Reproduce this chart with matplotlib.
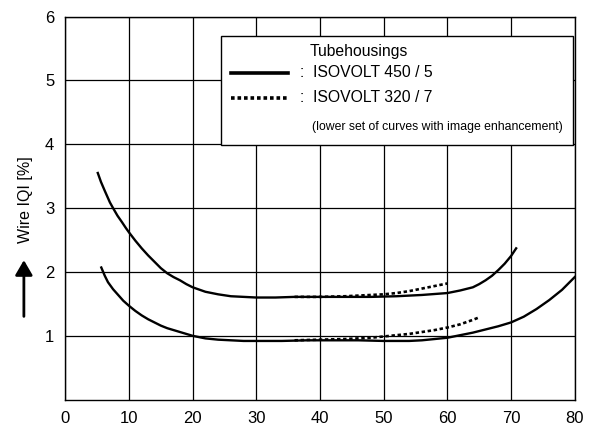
import matplotlib
matplotlib.use("Agg")
import matplotlib.pyplot as plt
from matplotlib.lines import Line2D
from matplotlib.patches import Rectangle, FancyArrowPatch

# ISOVOLT 450 / 5, without image enhancement (upper solid curve)
x_450_plain = [5.1, 5.6, 6.2, 7, 7.5, 8.2, 8.9, 9.5, 10, 11, 12, 13, 14, 15,
               16, 17, 18, 19, 20, 22, 24, 26, 28, 30, 33, 36, 40, 44, 48,
               52, 56, 60, 62, 64, 65, 66, 67, 68, 69, 70, 70.8]
y_450_plain = [3.55, 3.41, 3.27, 3.09, 3.00, 2.88, 2.78, 2.69, 2.62, 2.49,
               2.37, 2.26, 2.16, 2.06, 1.98, 1.92, 1.87, 1.81, 1.76, 1.69,
               1.65, 1.62, 1.61, 1.60, 1.60, 1.61, 1.61, 1.61, 1.61, 1.62,
               1.64, 1.67, 1.71, 1.76, 1.81, 1.87, 1.94, 2.03, 2.13, 2.25,
               2.37]

# ISOVOLT 450 / 5, with image enhancement (lower solid curve)
x_450_enh = [5.65, 6.2, 6.7, 7.5, 8.3, 9.1, 10, 11, 12, 13, 14, 15, 16, 17,
             18, 19, 20, 22, 24, 26, 28, 30, 34, 38, 42, 46, 50, 54, 56, 58,
             60, 62, 64, 66, 68, 70, 72, 74, 76, 78, 80]
y_450_enh = [2.07, 1.94, 1.84, 1.73, 1.64, 1.55, 1.47, 1.39, 1.32, 1.26,
             1.21, 1.16, 1.12, 1.09, 1.06, 1.03, 1.00, 0.96, 0.94, 0.93,
             0.92, 0.92, 0.92, 0.93, 0.93, 0.93, 0.92, 0.92, 0.93, 0.95,
             0.97, 1.01, 1.05, 1.10, 1.15, 1.21, 1.30, 1.42, 1.56, 1.72,
             1.92]

# ISOVOLT 320 / 7 (dotted), upper and lower
x_320_plain = [36, 40, 44, 48, 50, 52, 54, 56, 58, 60]
y_320_plain = [1.61, 1.61, 1.62, 1.64, 1.65, 1.67, 1.70, 1.74, 1.78, 1.82]
x_320_enh = [36, 40, 44, 48, 50, 52, 54, 56, 58, 60, 62, 64, 65]
y_320_enh = [0.93, 0.94, 0.95, 0.97, 0.99, 1.01, 1.03, 1.06, 1.09, 1.13,
             1.18, 1.25, 1.29]

x_ticks = [0, 10, 20, 30, 40, 50, 60, 70, 80]
y_ticks = [1, 2, 3, 4, 5, 6]

plt.rcParams['font.family'] = ['Liberation Sans', 'DejaVu Sans']

fig = plt.figure(figsize=(5.97, 4.29), dpi=100)
ax = fig.add_axes([0.1094, 0.0683, 0.8533, 0.8932])

dots = (0, (1.3, 1.0))
ax.plot(x_450_plain, y_450_plain, color='black', lw=1.7, zorder=3)
ax.plot(x_450_enh, y_450_enh, color='black', lw=1.7, zorder=3)
ax.plot(x_320_plain, y_320_plain, color='black', lw=1.9, linestyle=dots, zorder=3)
ax.plot(x_320_enh, y_320_enh, color='black', lw=1.9, linestyle=dots, zorder=3)

ax.set_xlim(0, 80)
ax.set_ylim(0, 6)
ax.set_xticks(x_ticks)
ax.set_yticks(y_ticks)
ax.tick_params(length=0, labelsize=12, pad=8)
ax.grid(True, color='black', lw=0.9)
for s in ax.spines.values():
    s.set_linewidth(1.0)

# legend box
ax.add_patch(Rectangle((0.3057, 0.664), 0.69, 0.285, transform=ax.transAxes,
                       facecolor='white', edgecolor='black', lw=1.0, zorder=4))
ax.text(0.577, 0.91, 'Tubehousings', transform=ax.transAxes, ha='center',
        va='center', fontsize=11.3, zorder=5)
ax.add_line(Line2D([0.3253, 0.4372], [0.8528, 0.8528], transform=ax.transAxes,
                   color='black', lw=2.6, zorder=5))
ax.add_line(Line2D([0.3253, 0.4372], [0.7877, 0.7877], transform=ax.transAxes,
                   color='black', lw=2.6, linestyle=(0, (1.0, 0.8)), zorder=5))
ax.text(0.4607, 0.8528, ':  ISOVOLT 450 / 5', transform=ax.transAxes,
        ha='left', va='center', fontsize=11.3, zorder=5)
ax.text(0.4607, 0.7877, ':  ISOVOLT 320 / 7', transform=ax.transAxes,
        ha='left', va='center', fontsize=11.3, zorder=5)
ax.text(0.4843, 0.7115, '(lower set of curves with image enhancement)',
        transform=ax.transAxes, ha='left', va='center', fontsize=8.8, zorder=5)

# y label with arrow
fig.text(0.042, 0.534, 'Wire IQI [%]', rotation=90, ha='center', va='center',
         fontsize=11.5, family=['Liberation Sans Narrow', 'Liberation Sans'])
fig.add_artist(FancyArrowPatch(
    (0.040, 0.256), (0.040, 0.400), transform=fig.transFigure,
    arrowstyle='-|>,head_length=6,head_width=3.5', color='black', lw=2.0,
    mutation_scale=1.5))

fig.savefig('out.png', dpi=100)
